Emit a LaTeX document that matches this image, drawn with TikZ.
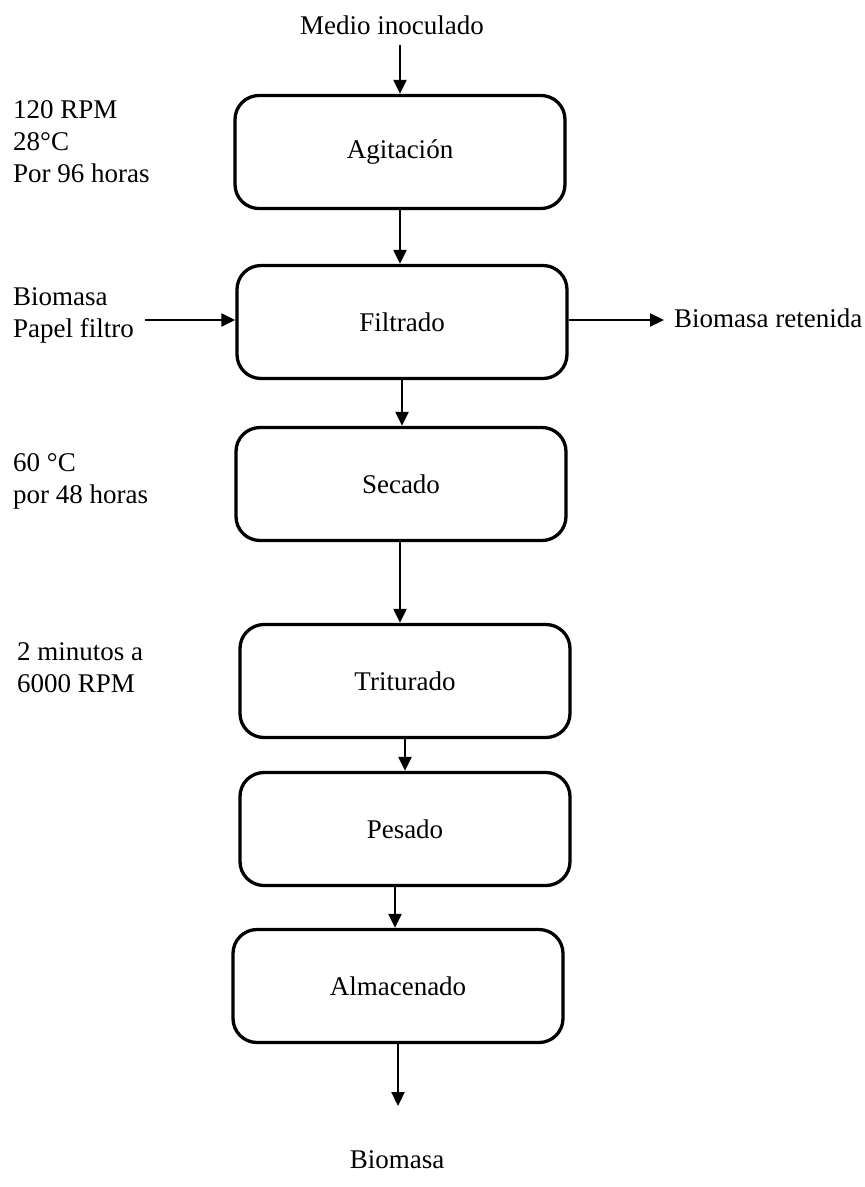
\documentclass[tikz,border=0pt]{standalone}
\usepackage{fontspec}
\setmainfont{Liberation Serif}
\usetikzlibrary{arrows.meta}
\begin{document}
\begin{tikzpicture}[x=1pt,y=-1pt,
  every node/.style={font=\fontsize{27}{32}\selectfont, inner sep=0pt},
  stepbox/.style={draw, line width=3.3pt, rounded corners=24pt, minimum width=330pt, minimum height=113pt},
  note/.style={anchor=west, align=left},
  arr/.style={line width=2.2pt, -{Triangle[length=14pt,width=13pt]}}]
\useasboundingbox (0,0) rectangle (865,1187);

% process steps
\node[stepbox] (agit) at (400,152) {Agitación};
\node[stepbox] (filt) at (402,322) {Filtrado};
\node[stepbox] (seca) at (401,484) {Secado};
\node[stepbox] (trit) at (405,681) {Triturado};
\node[stepbox] (pesa) at (405,829) {Pesado};
\node[stepbox] (alma) at (398,986) {Almacenado};

% inputs and outputs
\node (medio) at (392,25) {Medio inoculado};
\node (biom) at (397,1160) {Biomasa};
\node[anchor=west] (ret) at (674,318) {Biomasa retenida};
\coordinate (feed) at (145,320);
\coordinate (retend) at (664,320);

% operating conditions
\node[note] (c1) at (13,142) {120 RPM\\28°C\\Por 96 horas};
\node[note] (c2) at (13,315) {Biomasa\\Papel filtro};
\node[note] (c3) at (13,481) {60 °C\\por 48 horas};
\node[note] (c4) at (17,668) {2 minutos a\\6000 RPM};

% flow
\draw[arr] (agit.north |- 0,45) -- (agit.north);
\draw[arr] (agit.south) -- (agit.south |- filt.north);
\draw[arr] (filt.south) -- (filt.south |- seca.north);
\draw[arr] ([xshift=-1pt]seca.south) -- ([xshift=-1pt]seca.south |- trit.north);
\draw[arr] (trit.south) -- (trit.south |- pesa.north);
\draw[arr] ([xshift=-10pt]pesa.south) -- ([xshift=-10pt]pesa.south |- alma.north);
\draw[arr] (alma.south) -- (alma.south |- 0,1106);
\draw[arr] (feed) -- (feed -| filt.west);
\draw[arr] (filt.east |- retend) -- (retend);
\end{tikzpicture}
\end{document}
